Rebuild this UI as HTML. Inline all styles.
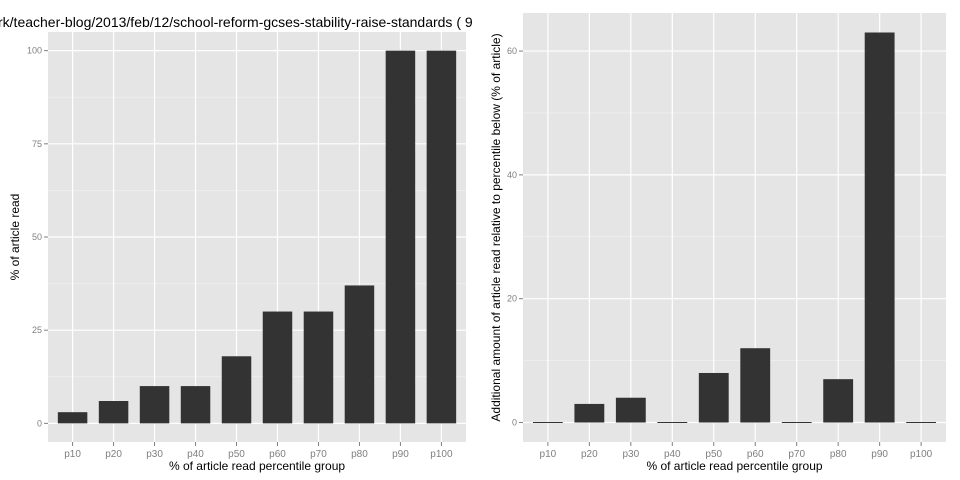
<!DOCTYPE html>
<html><head><meta charset="utf-8"><style>
body{margin:0;background:#fff}
svg{display:block;font-family:"Liberation Sans",sans-serif}
</style></head><body>
<svg id="c" width="960" height="480">
<text x="-2" y="27" font-size="14" fill="#000">rk/teacher-blog/2013/feb/12/school-reform-gcses-stability-raise-standards ( 9</text>
</svg>
<script>
const categories=["p10","p20","p30","p40","p50","p60","p70","p80","p90","p100"];
const leftValues=[3,6,10,10,18,30,30,37,100,100];
const rightValues=[0,3,4,0,8,12,0,7,63,0];
const leftTicks=[0,25,50,75,100];
const rightTicks=[0,20,40,60];
const NS="http://www.w3.org/2000/svg";
const svg=document.getElementById('c');
function el(t,a,p){const e=document.createElementNS(NS,t);for(const k in a)e.setAttribute(k,a[k]);(p||svg).appendChild(e);return e;}
function panel(cfg){
  const g=el('g',{});
  
  
  const {x0,x1,y0,y1,vals,ticks,minor,ymax}=cfg;
  const pad=ymax*0.05;
  const ys=v=>y1-(v+pad)/(ymax+2*pad)*(y1-y0);
  const step=(x1-x0)/(categories.length+0.2);
  const xs=i=>x0+step*(0.6+i);
  const bg=el('rect',{x:x0,y:y0,width:x1-x0,height:y1-y0,fill:'#e5e5e5'},g);
  
  minor.forEach(v=>el('line',{x1:x0,x2:x1,y1:ys(v),y2:ys(v),stroke:'#f2f2f2','stroke-width':0.6},g));
  ticks.forEach(v=>{
    el('line',{x1:x0,x2:x1,y1:ys(v),y2:ys(v),stroke:'#fff','stroke-width':1.2},g);
    el('line',{x1:x0-4,x2:x0,y1:ys(v),y2:ys(v),stroke:'#7f7f7f','stroke-width':1},g);
    const t=el('text',{x:x0-6,y:ys(v)+3,'text-anchor':'end','font-size':9,fill:'#7f7f7f'},g);
    t.textContent=v;
    
  });
  categories.forEach((c,i)=>{
    el('line',{x1:xs(i),x2:xs(i),y1:y0,y2:y1,stroke:'#fff','stroke-width':1.2},g);
    el('line',{x1:xs(i),x2:xs(i),y1:y1,y2:y1+4,stroke:'#7f7f7f','stroke-width':1},g);
    const t=el('text',{x:xs(i),y:y1+15,'text-anchor':'middle','font-size':10,fill:'#7f7f7f'},g);
    t.textContent=c;
    
  });
  vals.forEach((v,i)=>{
    const bw=step*0.72;
    const h=Math.max(ys(0)-ys(v),1);
    const r=el('rect',{x:xs(i)-bw/2,y:ys(0)-h+(v===0?0.5:0),width:bw,height:h,fill:'#333333'},g);
    
    
  });
  const xt=el('text',{x:(x0+x1)/2,y:y1+28,'text-anchor':'middle','font-size':12,fill:'#000'},g);
  xt.textContent='% of article read percentile group';
  
  const yt=el('text',{x:0,y:0,'text-anchor':'middle','font-size':12,fill:'#000',transform:`translate(${cfg.ytx},${(y0+y1)/2}) rotate(-90)`},g);
  yt.textContent=cfg.ytitle;
  
}
panel({name:'left-panel',x0:48,x1:466,y0:32,y1:442,vals:leftValues,ticks:leftTicks,minor:[12.5,37.5,62.5,87.5],ymax:100,ytx:19,ytitle:'% of article read'});
const cover=el('rect',{x:478,y:0,width:482,height:480,fill:'#fff'});

panel({name:'right-panel',x0:523,x1:946,y0:13,y1:442,vals:rightValues,ticks:rightTicks,minor:[10,30,50],ymax:63,ytx:500,ytitle:'Additional amount of article read relative to percentile below (% of article)'});
</script>
</body></html>
